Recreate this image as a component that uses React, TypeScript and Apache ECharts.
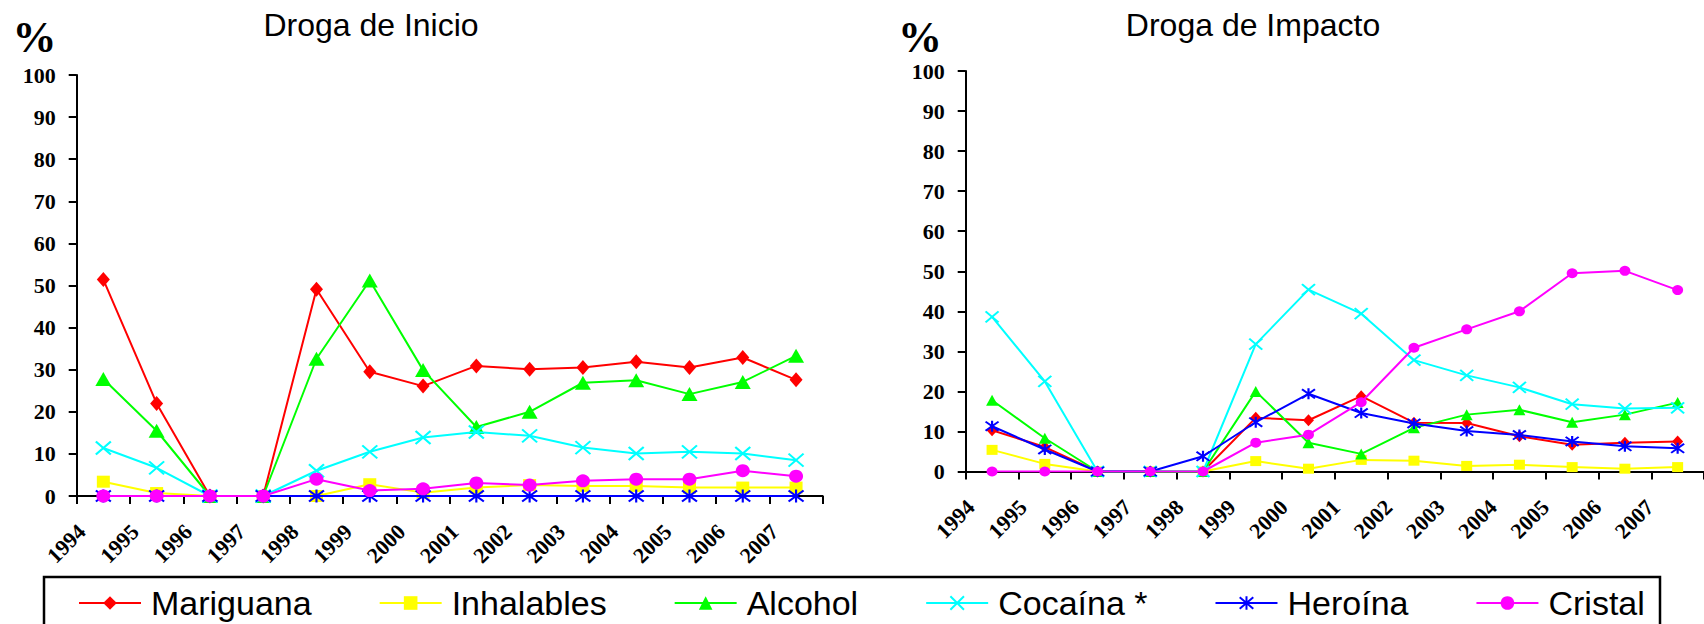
import React, { useEffect, useRef } from "react";
import * as echarts from "echarts";

const years = ["1994", "1995", "1996", "1997", "1998", "1999", "2000", "2001", "2002", "2003", "2004", "2005", "2006", "2007"];
const yearLabels = [...years, ""];

const seriesNames = ["Mariguana", "Inhalables", "Alcohol", "Cocaína *", "Heroína", "Cristal"];
const seriesColors = ["#FF0000", "#FFFF00", "#00FF00", "#00FFFF", "#0000FF", "#FF00FF"];

// Droga de Inicio
const iniMariguana = [51.4, 22.0, 0, 0, 49.1, 29.5, 26.1, 30.9, 30.1, 30.5, 31.9, 30.5, 32.9, 27.6];
const iniInhalables = [3.4, 0.7, 0, 0, 0, 2.8, 0.8, 2.0, 2.6, 2.4, 2.4, 2.0, 2.0, 2.0];
const iniAlcohol = [27.8, 15.5, 0, 0, 32.6, 51.2, 29.9, 16.4, 20.0, 26.9, 27.5, 24.2, 27.1, 33.3];
const iniCocaina = [11.4, 6.7, 0, 0, 6.0, 10.5, 13.9, 15.2, 14.3, 11.5, 10.1, 10.5, 10.1, 8.5];
const iniHeroina = [0, 0, 0, 0, 0, 0, 0, 0, 0, 0, 0, 0, 0, 0];
const iniCristal = [0, 0, 0, 0, 4.0, 1.3, 1.7, 3.1, 2.6, 3.6, 4.0, 4.0, 6.0, 4.7];

// Droga de Impacto
const impMariguana = [10.3, 6.1, 0, 0, 0, 13.4, 12.8, 18.8, 12.2, 12.1, 8.8, 6.7, 7.2, 7.5];
const impInhalables = [5.4, 1.9, 0, 0, 0, 2.6, 0.7, 2.9, 2.7, 1.4, 1.7, 1.1, 0.7, 1.1];
const impAlcohol = [17.8, 8.3, 0, 0, 0, 20.0, 7.2, 4.4, 10.9, 14.2, 15.4, 12.3, 14.2, 17.2];
const impCocaina = [38.6, 22.5, 0, 0, 0, 31.8, 45.4, 39.4, 27.8, 24.0, 21.0, 16.8, 15.7, 15.9];
const impHeroina = [11.3, 5.5, 0, 0, 3.8, 12.3, 19.4, 14.6, 12.0, 10.1, 9.1, 7.5, 6.3, 5.8];
const impCristal = [0, 0, 0, 0, 0, 7.2, 9.2, 17.3, 30.9, 35.5, 40.0, 49.5, 50.1, 45.3];

const iniData = [iniMariguana, iniInhalables, iniAlcohol, iniCocaina, iniHeroina, iniCristal];
const impData = [impMariguana, impInhalables, impAlcohol, impCocaina, impHeroina, impCristal];

const CROSS = "path://M0,0L10,10M10,0L0,10";
const STAR = "path://M0,0L10,10M10,0L0,10M5,-1L5,11";
const symbols = ["diamond", "rect", "triangle", CROSS, STAR, "circle"];
const strokeSymbol = [false, false, false, true, true, false];
const leftSizes: any[] = [[13, 15], [13, 12], [16, 14], [15, 13], [15, 13], [14, 13]];
const rightSizes: any[] = [[11, 12], [11, 10], [12, 11], [13, 11], [13, 11], [11, 10]];

const serifBold = { fontFamily: "Liberation Serif", fontWeight: "bold" as const, fontSize: 22, color: "#000" };

export default function App() {
  const ref = useRef<HTMLDivElement>(null);
  useEffect(() => {
    if (!ref.current) return;
    const chart = echarts.init(ref.current, null, { renderer: "svg" });

    const mkSeries = (data: number[][], axis: number, sizes: any[]) =>
      data.map((vals, i) => ({
        name: seriesNames[i],
        type: "line",
        xAxisIndex: axis,
        yAxisIndex: axis,
        data: vals,
        symbol: symbols[i],
        symbolSize: sizes[i],
        showAllSymbol: true,
        lineStyle: { color: seriesColors[i], width: 2 },
        itemStyle: {
          color: seriesColors[i],
          borderColor: seriesColors[i],
          borderWidth: strokeSymbol[i] ? 2 : 0,
          opacity: 1,
        },
        emphasis: { disabled: true },
        z: 2 + i,
      }));

    const mainX = (g: number) => ({
      gridIndex: g,
      type: "category",
      data: years,
      boundaryGap: true,
      axisLine: { show: true, lineStyle: { color: "#000", width: 2 } },
      axisTick: { show: true, interval: 0, length: 8, lineStyle: { color: "#000", width: 2 } },
      axisLabel: { show: false },
      splitLine: { show: false },
    });
    const labelX = (g: number) => ({
      gridIndex: g,
      type: "category",
      data: yearLabels,
      boundaryGap: false,
      axisLine: { show: false },
      axisTick: { show: false },
      axisLabel: { interval: 0, rotate: 45, margin: 32, ...serifBold },
      splitLine: { show: false },
    });
    const mainY = (g: number) => ({
      gridIndex: g,
      type: "value",
      min: 0,
      max: 100,
      interval: 10,
      axisLine: { show: true, lineStyle: { color: "#000", width: 2 } },
      axisTick: { show: true, length: 8, lineStyle: { color: "#000", width: 2 } },
      axisLabel: { margin: 21, ...serifBold },
      splitLine: { show: false },
    });
    const hiddenY = (g: number) => ({ gridIndex: g, type: "value", show: false, min: 0, max: 1 });

    const textEl = (text: string, x: number, y: number, font: string) => ({
      type: "text",
      x,
      y,
      style: {
        text,
        font,
        fill: "#000",
        textAlign: "center",
        align: "center",
        textVerticalAlign: "middle",
        verticalAlign: "middle",
      },
    });

    chart.setOption({
      animation: false,
      grid: [
        { left: 76.7, top: 75, width: 746, height: 421 },
        { left: 81.7, top: 75, width: 746, height: 421 },
        { left: 965.7, top: 71, width: 752, height: 400.5 },
        { left: 970.7, top: 71, width: 752, height: 400.5 },
      ],
      xAxis: [mainX(0), labelX(1), mainX(2), labelX(3)],
      yAxis: [mainY(0), hiddenY(1), mainY(2), hiddenY(3)],
      legend: {
        data: seriesNames,
        left: 78,
        top: 586,
        padding: 0,
        itemWidth: 62,
        itemHeight: 17,
        itemGap: 67,
        selectedMode: false,
        textStyle: { fontFamily: "Liberation Sans", fontSize: 34, color: "#000", padding: [0, 0, 0, 5] },
      },
      graphic: [
        textEl("Droga de Inicio", 371, 25, '32px "Liberation Sans"'),
        textEl("Droga de Impacto", 1253, 25, '32px "Liberation Sans"'),
        textEl("%", 34.5, 37, 'bold 44px "Liberation Serif"'),
        textEl("%", 920, 37, 'bold 44px "Liberation Serif"'),
        {
          type: "rect",
          shape: { x: 44, y: 577, width: 1616, height: 70 },
          style: { fill: "none", stroke: "#000", lineWidth: 2.5 },
          z: -1,
        },
      ],
      series: [...mkSeries(iniData, 0, leftSizes), ...mkSeries(impData, 2, rightSizes)],
    });
    return () => chart.dispose();
  }, []);
  return (
    <div
      ref={ref}
      style={{ position: "fixed", left: 0, top: 0, width: 1704, height: 624, background: "#fff" }}
    />
  );
}
